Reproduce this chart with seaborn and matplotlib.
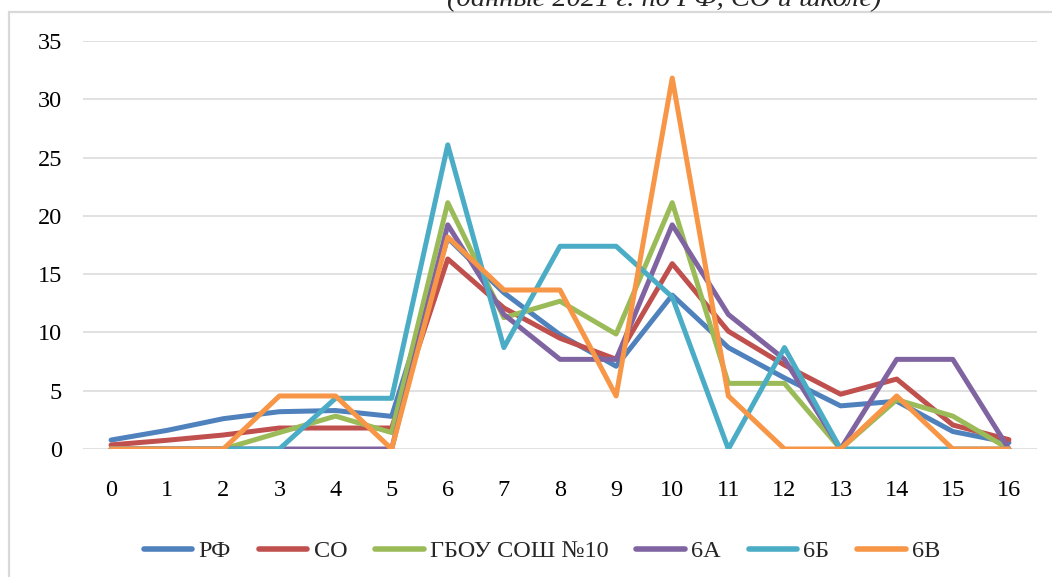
import numpy as np
import pandas as pd
import seaborn as sns
import matplotlib
matplotlib.use("Agg")
import matplotlib.pyplot as plt
from matplotlib.lines import Line2D
from matplotlib.patches import Rectangle

# Primary scores (0..16) and share of participants, %
scores = list(range(17))

rf = [0.77, 1.6, 2.6, 3.2, 3.3, 2.8, 18.1, 13.4, 9.8, 7.1, 13.2, 8.7, 6.1, 3.7, 4.1, 1.5, 0.55]
so = [0.35, 0.75, 1.2, 1.8, 1.8, 1.8, 16.3, 12.1, 9.5, 7.7, 15.9, 10.1, 7.2, 4.7, 6.0, 2.06, 0.8]
school = [0, 0, 0, 1.41, 2.82, 1.41, 21.13, 11.27, 12.68, 9.86, 21.13, 5.63, 5.63, 0, 4.23, 2.82, 0]
cls_a = [0, 0, 0, 0, 0, 0, 19.23, 11.54, 7.69, 7.69, 19.23, 11.54, 7.69, 0, 7.69, 7.69, 0]
cls_b = [0, 0, 0, 0, 4.35, 4.35, 26.09, 8.7, 17.39, 17.39, 13.04, 0, 8.7, 0, 0, 0, 0]
cls_v = [0, 0, 0, 4.55, 4.55, 0, 18.18, 13.64, 13.64, 4.55, 31.82, 4.55, 0, 0, 4.55, 0, 0]

series_names = ["РФ", "СО", "ГБОУ СОШ №10", "6А", "6Б", "6В"]
series_values = [rf, so, school, cls_a, cls_b, cls_v]
colors = ["#4F81BD", "#C0504D", "#9BBB59", "#8064A2", "#4BACC6", "#F79646"]

y_ticks = [0, 5, 10, 15, 20, 25, 30, 35]

df = pd.concat(
    [pd.DataFrame({"score": scores, "value": vals, "series": name})
     for name, vals in zip(series_names, series_values)],
    ignore_index=True,
)

sns.set_theme(style="white")
plt.rcParams["font.family"] = ["Liberation Serif", "DejaVu Serif"]

W, H = 1052, 577
fig = plt.figure(figsize=(W / 100, H / 100), dpi=100)
ax = fig.add_axes([83 / W, 1 - 449 / H, 954 / W, 408 / H])

sns.lineplot(
    data=df, x="score", y="value", hue="series", hue_order=series_names,
    palette=colors, linewidth=3.6, ax=ax, legend=False, sort=False,
)
for ln in ax.lines:
    ln.set_solid_joinstyle("round")
    ln.set_solid_capstyle("round")

ax.set_xlim(-0.5, 16.5)
ax.set_ylim(0, 35)
ax.set_xticks(scores)
ax.set_xticklabels([str(s) for s in scores])
ax.set_yticks(y_ticks)
ax.set_yticklabels([str(t) for t in y_ticks])
ax.set_xlabel("")
ax.set_ylabel("")
ax.grid(axis="y", color="#D9D9D9", linewidth=1.1)
ax.grid(axis="x", visible=False)
ax.set_axisbelow(True)
for side in ["top", "right", "left", "bottom"]:
    ax.spines[side].set_visible(False)
ax.tick_params(axis="both", length=0, labelsize=17.5, colors="black")
ax.tick_params(axis="y", pad=15)
ax.tick_params(axis="x", pad=22)

# Legend under the plot
handles = [Line2D([0], [0], color=c, linewidth=4, solid_capstyle="round") for c in colors]
fig.legend(
    handles, series_names, loc="center", bbox_to_anchor=(542 / W, 1 - 551 / H),
    ncol=6, frameon=False, fontsize=17.5, handlelength=2.0, handletextpad=0.25,
    columnspacing=1.15,
)

# Chart area border
fig.patches.append(Rectangle((9 / W, -0.1), 1.2, 1.1 - 12 / H, transform=fig.transFigure,
                             fill=False, edgecolor="#D9D9D9", linewidth=1.6))

# Title (its upper part falls outside the canvas)
fig.text(664 / W, 1 - 6 / H, "(данные 2021 г. по РФ, СО и школе)", ha="center",
         va="baseline", fontsize=20.5, style="italic")

fig.savefig("out.png", dpi=100)
